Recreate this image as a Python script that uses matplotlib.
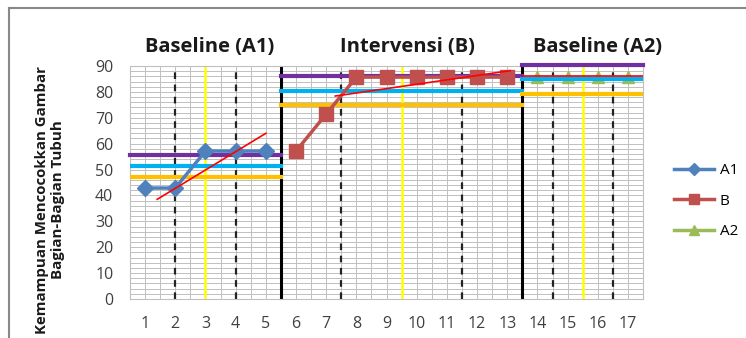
import matplotlib.pyplot as plt
from matplotlib.lines import Line2D
import numpy as np

plt.rcParams['font.family'] = ['Open Sans', 'DejaVu Sans']

# sessions and scores
x_a1 = [1, 2, 3, 4, 5]
y_a1 = [42.86, 42.86, 57.14, 57.14, 57.14]
x_b = [6, 7, 8, 9, 10, 11, 12, 13]
y_b = [57.14, 71.43, 85.71, 85.71, 85.71, 85.71, 85.71, 85.71]
x_a2 = [14, 15, 16, 17]
y_a2 = [85.71, 85.71, 85.71, 85.71]

# phase ranges and helper lines (upper, mean, lower)
phase_ranges = [(0.5, 5.5), (5.5, 13.5), (13.5, 17.5)]
upper = [55.7, 86.0, 90.4]
mean = [51.4, 80.4, 85.0]
lower = [47.1, 74.9, 79.3]
phase_titles = ["Baseline (A1)", "Intervensi (B)", "Baseline (A2)"]
title_x = [3.15, 9.7, 16.0]

# split-middle trend lines
trend_a1 = ([1.4, 5.0], [38.5, 64.0])
trend_b = ([7.3, 13.1], [78.4, 88.2])
trend_a2 = ([13.5, 17.5], [86.2, 86.2])

phase_walls = [5.5, 13.5]
dashed_x = [2, 4, 7.5, 11.5, 14.5, 16.5]
yellow_x = [3, 9.5, 15.5]

fig = plt.figure(figsize=(7.46, 3.38), dpi=100)
ax = fig.add_axes([0.1743, 0.1154, 0.6877, 0.6893])

ax.set_xlim(0.5, 17.5)
ax.set_ylim(0, 90)
ax.set_xticks(range(1, 18))
ax.set_yticks(range(0, 91, 10))
ax.set_xticks(np.arange(0.5, 17.6, 0.5), minor=True)
ax.set_yticks(range(0, 91, 2), minor=True)
ax.grid(which='both', color='#c0c0c0', linewidth=0.7)
ax.set_axisbelow(True)
ax.tick_params(which='both', length=0, labelsize=11.5, colors='#404040')
ax.tick_params(axis='x', pad=12)
ax.tick_params(axis='y', pad=12)
for s in ax.spines.values():
    s.set_color('#bfbfbf')
    s.set_linewidth(0.8)

for xv in phase_walls:
    ax.axvline(xv, color='black', linewidth=2.2)
for xv in dashed_x:
    ax.axvline(xv, color='#222222', linewidth=1.6, linestyle=(0, (3, 2.5)))
for xv in yellow_x:
    ax.axvline(xv, color='#ffff00', linewidth=1.8)

for (x0, x1), u, m, lo in zip(phase_ranges, upper, mean, lower):
    ax.plot([x0, x1], [u, u], color='#7030a0', linewidth=3, clip_on=False, zorder=3)
    ax.plot([x0, x1], [m, m], color='#00b0f0', linewidth=3, zorder=3)
    ax.plot([x0, x1], [lo, lo], color='#ffc000', linewidth=3, zorder=3)

ax.plot(x_a1, y_a1, color='#4f81bd', marker='D', markersize=8, linewidth=2.5, zorder=4)
ax.plot(x_b, y_b, color='#c0504d', marker='s', markersize=10, linewidth=2.5, zorder=4)
ax.plot(x_a2, y_a2, color='#9bbb59', marker='^', markersize=8, linewidth=2.5, zorder=2.5)

for tx, ty in (trend_a1, trend_b, trend_a2):
    ax.plot(tx, ty, color='red', linewidth=1.2, zorder=5)

for t, xv in zip(phase_titles, title_x):
    ax.text(xv, 93.5, t, ha='center', va='bottom', fontsize=14.5,
            fontweight='bold', color='#1a1a1a')

fig.text(0.067, 0.408, "Kemampuan Mencocokkan Gambar\nBagian-Bagian Tubuh",
         rotation=90, ha='center', va='center', multialignment='center',
         fontsize=10.8, fontweight='bold', color='#1a1a1a', linespacing=1.25)

handles = [
    Line2D([], [], color='#4f81bd', marker='D', markersize=6, linewidth=2.5),
    Line2D([], [], color='#c0504d', marker='s', markersize=7, linewidth=2.5),
    Line2D([], [], color='#9bbb59', marker='^', markersize=7, linewidth=2.5),
]
fig.legend(handles, ['A1', 'B', 'A2'], loc='center left',
           bbox_to_anchor=(0.885, 0.405), frameon=False, fontsize=11,
           handlelength=2.6, labelspacing=1.0, handletextpad=0.4)

# outer chart border (left and top)
fig.add_artist(Line2D([9 / 746, 9 / 746], [0, 330 / 338], color='#888888', linewidth=1.5))
fig.add_artist(Line2D([9 / 746, 1], [330 / 338, 330 / 338], color='#888888', linewidth=1.5))

fig.savefig('out.png', dpi=100)
